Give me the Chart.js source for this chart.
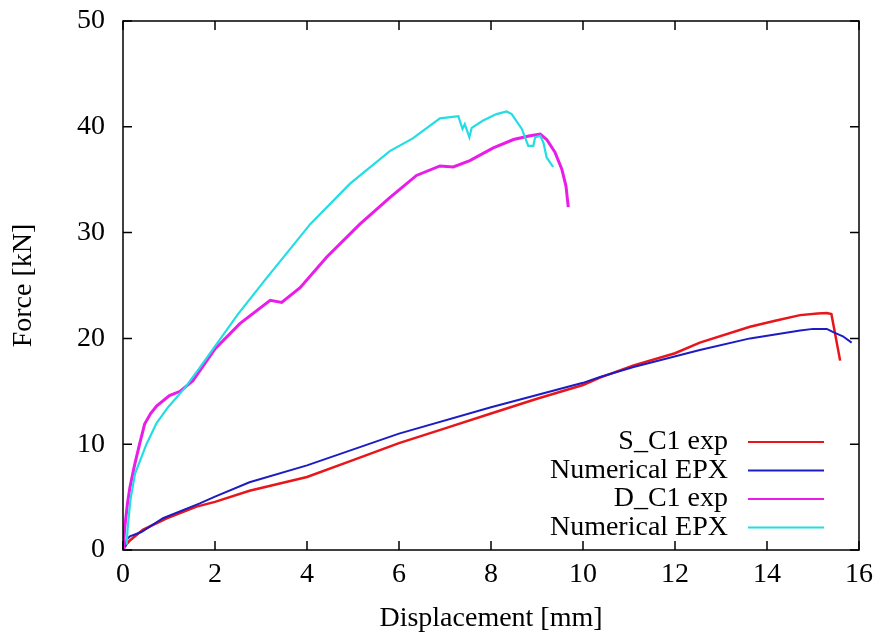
<!DOCTYPE html>
<html>
<head>
<meta charset="utf-8">
<script src="https://cdn.jsdelivr.net/npm/chart.js@4.4.1/dist/chart.umd.min.js"></script>
<style>
  html, body { margin: 0; background: #fff; }
  #wrap { width: 880px; height: 641px; position: relative; }
</style>
</head>
<body>
<div id="wrap"><canvas id="forceChart"></canvas></div>
<script>
const serifFont = 'Liberation Serif';
const xTicks = [0, 2, 4, 6, 8, 10, 12, 14, 16];
const yTicks = [0, 10, 20, 30, 40, 50];
const xTitle = 'Displacement [mm]';
const yTitle = 'Force [kN]';

const seriesLabels = ['S_C1 exp', 'Numerical EPX', 'D_C1 exp', 'Numerical EPX'];
const seriesColors = ['#e8161b', '#1c1cc4', '#e81ee8', '#22dde2'];

// S_C1 exp (red)
const sExpX = [0, 0.05, 0.15, 0.43, 0.95, 1.6, 2.0, 2.75, 4.0, 5.0, 6.0, 7.0, 8.0, 9.0, 10.0, 10.37, 11.1, 12.0, 12.54, 13.63, 14.2, 14.72, 15.1, 15.3, 15.4, 15.59];
const sExpY = [0, 0.4, 0.9, 1.9, 3.0, 4.1, 4.55, 5.6, 6.9, 8.5, 10.1, 11.5, 12.9, 14.3, 15.6, 16.3, 17.45, 18.6, 19.6, 21.1, 21.7, 22.2, 22.35, 22.4, 22.3, 17.9];

// Numerical EPX for S_C1 (blue)
const sNumX = [0.05, 0.08, 0.15, 0.4, 0.87, 1.67, 2.0, 2.75, 4.0, 6.0, 8.0, 10.0, 10.37, 11.1, 12.54, 13.63, 14.72, 15.0, 15.3, 15.44, 15.65, 15.84];
const sNumY = [0.3, 1.0, 1.3, 1.7, 3.0, 4.4, 5.05, 6.4, 8.0, 11.0, 13.5, 15.8, 16.35, 17.3, 18.9, 20.0, 20.75, 20.9, 20.9, 20.6, 20.2, 19.6];

// D_C1 exp (magenta)
const dExpX = [0, 0.02, 0.04, 0.1, 0.15, 0.25, 0.36, 0.47, 0.6, 0.73, 1.01, 1.24, 1.52, 2.0, 2.54, 3.2, 3.45, 3.85, 4.43, 5.15, 5.8, 6.38, 6.89, 7.18, 7.54, 8.05, 8.49, 8.85, 9.07, 9.21, 9.39, 9.54, 9.63, 9.68];
const dExpY = [0, 1.0, 2.2, 4.5, 5.9, 8.0, 10.0, 11.9, 12.9, 13.6, 14.6, 15.0, 16.0, 19.0, 21.4, 23.6, 23.4, 24.8, 27.7, 30.8, 33.3, 35.4, 36.3, 36.2, 36.8, 38.0, 38.8, 39.15, 39.3, 38.8, 37.6, 36.0, 34.4, 32.4];

// Numerical EPX for D_C1 (cyan)
const dNumX = [0.08, 0.1, 0.16, 0.26, 0.51, 0.73, 0.98, 1.34, 1.63, 1.96, 2.5, 3.12, 4.07, 4.93, 5.8, 6.3, 6.89, 7.29, 7.38, 7.43, 7.53, 7.58, 7.83, 8.12, 8.34, 8.45, 8.67, 8.81, 8.92, 8.96, 9.07, 9.14, 9.21, 9.35];
const dNumY = [0.5, 2.0, 4.7, 7.2, 10.0, 12.0, 13.5, 15.3, 17.0, 19.0, 22.3, 25.7, 30.8, 34.6, 37.7, 38.9, 40.8, 41.0, 39.8, 40.25, 39.0, 39.9, 40.6, 41.2, 41.45, 41.2, 39.8, 38.2, 38.2, 39.0, 39.15, 38.5, 37.1, 36.2];

const seriesX = [sExpX, sNumX, dExpX, dNumX];
const seriesY = [sExpY, sNumY, dExpY, dNumY];
const seriesWidths = [2.5, 2, 3, 2.2];

function toPoints(xs, ys) {
    return xs.map((x, i) => ({ x, y: ys[i] }));
}

// box frame with inward ticks on all sides, plus the gnuplot-style legend
const frameLegendPlugin = {
    id: 'frameLegend',
    afterDatasetsDraw(chart) {
        const { ctx, chartArea: area, scales } = chart;
        const tickLen = 9;
        ctx.save();
        ctx.strokeStyle = '#000';
        ctx.lineWidth = 1.5;
        ctx.strokeRect(area.left, area.top, area.right - area.left, area.bottom - area.top);
        ctx.beginPath();
        xTicks.forEach(value => {
            const px = scales.x.getPixelForValue(value);
            ctx.moveTo(px, area.bottom); ctx.lineTo(px, area.bottom - tickLen);
            ctx.moveTo(px, area.top); ctx.lineTo(px, area.top + tickLen);
        });
        yTicks.forEach(value => {
            const py = scales.y.getPixelForValue(value);
            ctx.moveTo(area.left, py); ctx.lineTo(area.left + tickLen, py);
            ctx.moveTo(area.right, py); ctx.lineTo(area.right - tickLen, py);
        });
        ctx.stroke();

        ctx.font = '28px "' + serifFont + '"';
        ctx.textAlign = 'right';
        ctx.textBaseline = 'middle';
        ctx.fillStyle = '#000';
        chart.data.datasets.forEach((ds, i) => {
            const y = area.bottom - 108 + i * 28.5;
            ctx.fillText(ds.label, area.right - 131, y);
            ctx.strokeStyle = ds.borderColor;
            ctx.lineWidth = 2;
            ctx.beginPath();
            ctx.moveTo(area.right - 111, y);
            ctx.lineTo(area.right - 35, y);
            ctx.stroke();
        });
        ctx.restore();
    },
};

new Chart(document.getElementById('forceChart'), {
    type: 'scatter',
    data: {
        datasets: seriesLabels.map((label, i) => ({
            label,
            data: toPoints(seriesX[i], seriesY[i]),
            showLine: true,
            borderColor: seriesColors[i],
            backgroundColor: seriesColors[i],
            borderWidth: seriesWidths[i],
            pointRadius: 0,
            tension: 0,
            order: 4 - i,
        })),
    },
    options: {
        responsive: true,
        maintainAspectRatio: false,
        animation: false,
        layout: { padding: { top: 21, right: 21, left: 0, bottom: 0 } },
        plugins: { legend: { display: false }, tooltip: { enabled: false } },
        scales: {
            x: {
                type: 'linear',
                min: 0,
                max: 16,
                afterBuildTicks: scale => { scale.ticks = xTicks.map(value => ({ value })); },
                grid: { display: false, drawTicks: false },
                border: { display: false },
                ticks: { color: '#000', font: { family: serifFont, size: 28 }, padding: 8 },
                title: { display: true, text: xTitle, color: '#000', font: { family: serifFont, size: 28 }, padding: { top: 6, bottom: 6 } },
                afterFit: scale => {
                    scale.height = 91;
                    scale.paddingLeft = 0;
                    scale.paddingRight = 0;
                },
            },
            y: {
                type: 'linear',
                min: 0,
                max: 50,
                afterBuildTicks: scale => { scale.ticks = yTicks.map(value => ({ value })); },
                grid: { display: false, drawTicks: false },
                border: { display: false },
                ticks: { color: '#000', font: { family: serifFont, size: 28 }, padding: 18 },
                title: { display: true, text: yTitle, color: '#000', font: { family: serifFont, size: 28 }, padding: { top: 7, bottom: 7 } },
                afterFit: scale => {
                    scale.width = 123;
                    scale.paddingTop = 0;
                    scale.paddingBottom = 0;
                },
            },
        },
    },
    plugins: [frameLegendPlugin],
});
</script>
</body>
</html>
